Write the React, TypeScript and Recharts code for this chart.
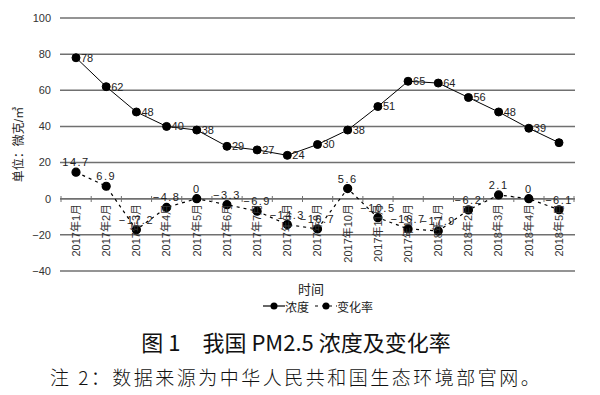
import React from "react";
import {
    LineChart,
    Line,
    XAxis,
    YAxis,
    CartesianGrid,
    ReferenceLine,
    LabelList,
    Legend,
    Label,
} from "recharts";

const months = [
    "2017年1月",
    "2017年2月",
    "2017年3月",
    "2017年4月",
    "2017年5月",
    "2017年6月",
    "2017年7月",
    "2017年8月",
    "2017年9月",
    "2017年10月",
    "2017年11月",
    "2017年12月",
    "2018年1月",
    "2018年2月",
    "2018年3月",
    "2018年4月",
    "2018年5月",
];
const concentration = [78, 62, 48, 40, 38, 29, 27, 24, 30, 38, 51, 65, 64, 56, 48, 39, 31];
// the last point carries no label in the original
const concentrationLabels = [78, 62, 48, 40, 38, 29, 27, 24, 30, 38, 51, 65, 64, 56, 48, 39, null];
const changeRate = [14.7, 6.9, -17.2, -4.8, 0, -3.3, -6.9, -14.3, -16.7, 5.6, -10.5, -16.7, -17.9, -6.2, 2.1, 0, -6.1];
const yTicks = [-40, -20, 0, 20, 40, 60, 80, 100];

const data = months.map((m, i) => ({
    month: m,
    conc: concentration[i],
    concLabel: concentrationLabels[i],
    rate: changeRate[i],
}));

const FONT = '"Liberation Sans", "Noto Sans CJK SC", sans-serif';
const GRID = "#707070";
const INK = "#222";

const minus = (v: any) => String(v).replace("-", "−");

// the month labels sit on the zero line, 72px above the plot bottom
const MonthTick = (props: any) => {
    const { x, y, payload, index } = props;
    const zero = y - 72;
    return (
        <g>
            <line x1={x - 15} x2={x - 15} y1={zero - 3} y2={zero + 3} stroke={GRID} />
            {index === months.length - 1 && (
                <line x1={x + 15} x2={x + 15} y1={zero - 3} y2={zero + 3} stroke={GRID} />
            )}
            <text
                transform={`translate(${x},${zero + 5}) rotate(-90)`}
                textAnchor="end"
                dy="0.35em"
                fontSize={11}
                fontFamily={FONT}
                fill="#333"
            >
                {payload.value}
            </text>
        </g>
    );
};

const LegendContent = () => (
    <div
        style={{
            display: "flex",
            justifyContent: "center",
            alignItems: "center",
            height: 20,
            paddingLeft: 36,
            fontSize: 12,
            fontFamily: FONT,
            color: INK,
        }}
    >
        <svg width={22} height={10}>
            <line x1={0} x2={22} y1={5} y2={5} stroke="#000" strokeWidth={1.2} />
            <circle cx={11} cy={5} r={3.5} fill="#000" />
        </svg>
        <span style={{ marginRight: 6 }}>浓度</span>
        <svg width={22} height={10}>
            <line x1={0} x2={22} y1={5} y2={5} stroke="#000" strokeWidth={1.2} strokeDasharray="3 4" />
            <circle cx={11} cy={5} r={3.5} fill="#000" />
        </svg>
        <span>变化率</span>
    </div>
);

export default function App() {
    return (
        <div style={{ position: "absolute", left: 0, top: 0, width: 600, height: 395, background: "#fff" }}>
            <LineChart
                width={600}
                height={316}
                data={data}
                margin={{ top: 18, right: 25, left: 0, bottom: 0 }}
            >
                <CartesianGrid vertical={false} stroke={GRID} strokeWidth={1.5} />
                <ReferenceLine y={0} stroke={GRID} strokeWidth={1.5} />
                <YAxis
                    domain={[-40, 100]}
                    ticks={yTicks}
                    width={60}
                    axisLine={false}
                    tickLine={false}
                    tickSize={0}
                    tickMargin={9}
                    tickFormatter={minus}
                    tick={{ fontSize: 11, fontFamily: FONT, fill: "#333" }}
                >
                    <Label
                        content={(p: any) => {
                            const vb = p.viewBox;
                            const cx = vb.x + 19;
                            const cy = vb.y + vb.height / 2;
                            return (
                                <text
                                    x={cx}
                                    y={cy}
                                    transform={`rotate(-90, ${cx}, ${cy})`}
                                    textAnchor="middle"
                                    dy="0.35em"
                                    fontSize={12}
                                    fontFamily={FONT}
                                    fill={INK}
                                >
                                    单位：微克/㎥
                                </text>
                            );
                        }}
                    />
                </YAxis>
                <XAxis
                    dataKey="month"
                    interval={0}
                    height={25}
                    padding={{ left: 16, right: 16 }}
                    axisLine={false}
                    tickLine={false}
                    tickSize={0}
                    tickMargin={0}
                    tick={<MonthTick />}
                >
                    <Label
                        content={(p: any) => {
                            const vb = p.viewBox;
                            return (
                                <text
                                    x={311}
                                    y={vb.y + 18}
                                    textAnchor="middle"
                                    dy="0.35em"
                                    fontSize={13}
                                    fontFamily={FONT}
                                    fill={INK}
                                >
                                    时间
                                </text>
                            );
                        }}
                    />
                </XAxis>
                <Legend
                    verticalAlign="bottom"
                    content={<LegendContent />}
                    wrapperStyle={{ left: 0, width: 600 }}
                />
                <Line
                    dataKey="conc"
                    name="浓度"
                    stroke="#000"
                    strokeWidth={1}
                    dot={{ r: 4, fill: "#000", stroke: "#000" }}
                    isAnimationActive={false}
                >
                    <LabelList
                        dataKey="concLabel"
                        position="right"
                        offset={5}
                        style={{ fontSize: 11, fontFamily: FONT, fill: INK }}
                    />
                </Line>
                <Line
                    dataKey="rate"
                    name="变化率"
                    stroke="#000"
                    strokeWidth={1.2}
                    strokeDasharray="3 4"
                    dot={{ r: 4, fill: "#000", stroke: "#000", strokeDasharray: "0" }}
                    isAnimationActive={false}
                >
                    <LabelList
                        dataKey="rate"
                        position="top"
                        offset={6}
                        formatter={minus}
                        style={{ fontSize: 11, fontFamily: FONT, fill: INK, letterSpacing: 1.5 }}
                    />
                </Line>
            </LineChart>
            <div
                style={{
                    position: "absolute",
                    top: 328,
                    left: 0,
                    width: 592,
                    textAlign: "center",
                    fontSize: 22,
                    fontWeight: 400,
                    fontFamily: '"Noto Sans CJK SC", sans-serif',
                    color: "#111",
                    lineHeight: "26px",
                    whiteSpace: "pre",
                }}
            >
                图 1　我国 PM2.5 浓度及变化率
            </div>
            <div
                style={{
                    position: "absolute",
                    top: 364,
                    left: 50,
                    fontSize: 19,
                    letterSpacing: 2.5,
                    fontFamily: '"Noto Sans CJK SC", sans-serif',
                    fontWeight: 300,
                    color: "#111",
                    lineHeight: "26px",
                    whiteSpace: "pre",
                }}
            >
                注 2：数据来源为中华人民共和国生态环境部官网。
            </div>
        </div>
    );
}
